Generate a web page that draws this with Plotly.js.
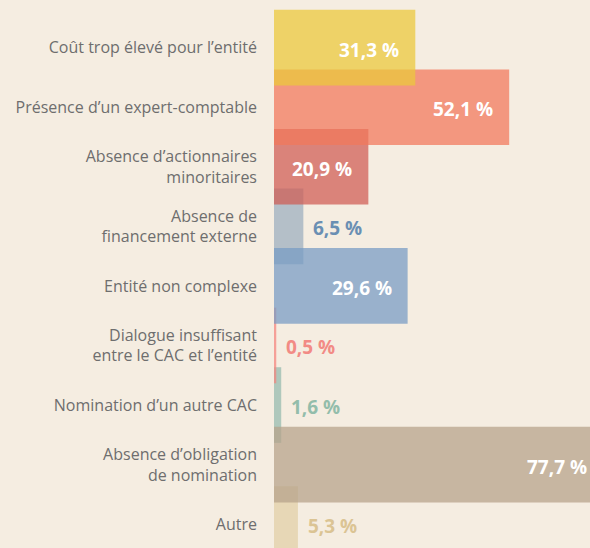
<!DOCTYPE html>
<html>
<head>
<meta charset="utf-8">
<script src="https://cdn.plot.ly/plotly-3.0.1.min.js"></script>
<style>
  html, body { margin: 0; padding: 0; background: #f5ede1; }
  #chart { width: 590px; height: 548px; }
</style>
</head>
<body>
<div id="chart"></div>
<script>
// ---- data ----
const categories = [
  "Coût trop élevé pour l’entité",
  "Présence d’un expert-comptable",
  "Absence d’actionnaires<br>minoritaires",
  "Absence de<br>financement externe",
  "Entité non complexe",
  "Dialogue insuffisant<br>entre le CAC et l’entité",
  "Nomination d’un autre CAC",
  "Absence d’obligation<br>de nomination",
  "Autre"
];
const values = [31.3, 52.1, 20.9, 6.5, 29.6, 0.5, 1.6, 77.7, 5.3];
const valueLabels = ["31,3 %", "52,1 %", "20,9 %", "6,5 %", "29,6 %", "0,5 %", "1,6 %", "77,7 %", "5,3 %"];

// ---- styles ----
const barColors = [
  "rgba(234,200,59,0.735)",
  "rgba(241,120,92,0.735)",
  "rgba(207,93,84,0.735)",
  "rgba(155,174,191,0.735)",
  "rgba(119,155,196,0.735)",
  "rgba(244,132,125,0.735)",
  "rgba(148,187,175,0.735)",
  "rgba(181,162,138,0.735)",
  "rgba(225,207,166,0.735)"
];
const outsideColors = ["#ffffff", "#ffffff", "#ffffff", "#6a8fb3", "#ffffff", "#f28b85", "#93bdab", "#ffffff", "#dbc494"];
// stacking order of the overlapping bars (bottom to top)
const layer = [3, 6, 8, 5, 2, 1, 0, 4, 7];
const xMax = 70;
const insideThreshold = 10;

const trace = {
  type: "bar",
  orientation: "h",
  x: layer.map(i => values[i]),
  y: layer.map(i => categories[i]),
  width: 1.27,
  marker: { color: layer.map(i => barColors[i]), line: { width: 0 } },
  hoverinfo: "none",
  cliponaxis: true
};

const annotations = values.map((v, i) => {
  const inside = v >= insideThreshold;
  const clipped = v > xMax;
  return {
    x: inside ? Math.min(v, xMax) : v,
    y: categories[i],
    xref: "x", yref: "y",
    text: valueLabels[i],
    showarrow: false,
    xanchor: inside ? "right" : "left",
    yanchor: "middle",
    xshift: inside ? (clipped ? -1 : -14) : 8,
    yshift: -2,
    font: { family: "Open Sans, sans-serif", size: 19, weight: 700, color: outsideColors[i] }
  };
});

const layout = {
  width: 590,
  height: 548,
  margin: { l: 274, r: 0, t: 0, b: 0, pad: 0 },
  paper_bgcolor: "#f5ede1",
  plot_bgcolor: "#f5ede1",
  barmode: "overlay",
  showlegend: false,
  xaxis: { visible: false, range: [0, xMax], fixedrange: true },
  yaxis: {
    type: "category",
    categoryorder: "array",
    categoryarray: categories,
    range: [8.40, -0.80],
    showgrid: false, zeroline: false, showline: false,
    ticks: "",
    ticklabelstandoff: 16,
    tickfont: { family: "Open Sans, sans-serif", size: 16, color: "#6e6e6e" },
    fixedrange: true
  },
  annotations: annotations
};

Plotly.newPlot("chart", [trace], layout, { staticPlot: true, displayModeBar: false });
</script>
</body>
</html>
